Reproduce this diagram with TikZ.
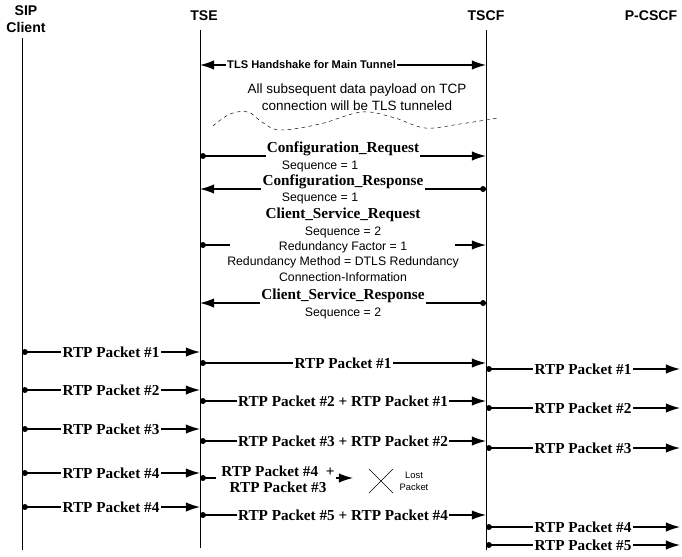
\documentclass[tikz,border=0pt]{standalone}
\usepackage{fontspec}
\setmainfont{Liberation Serif}
\setsansfont{Liberation Sans}
\usetikzlibrary{arrows.meta}
\tikzset{
  head/.style={font=\sffamily\bfseries\fontsize{12}{14}\selectfont, align=center},
  tip/.tip={Latex[length=12pt,width=8pt]},
  dot/.tip={Circle[length=5pt]},
  msg/.style={line width=1.1pt, {dot}-{tip}},
  back/.style={line width=1.1pt, {tip}-{dot}},
  lbl/.style={fill=white, inner sep=1pt, font=\bfseries\fontsize{13}{14}\selectfont},
  note/.style={font=\sffamily\fontsize{10.5}{13}\selectfont, align=center}
}
\begin{document}
\begin{tikzpicture}[x=0.03cm, y=-0.03cm]
  \useasboundingbox (0,0) rectangle (682,556);
  % lifelines
  \node[head] (sip) at (26,19) {SIP\\Client};
  \node[head] (tse) at (204,16) {TSE};
  \node[head] (tscf) at (486,16) {TSCF};
  \node[head] (pcscf) at (651,16) {P-CSCF};
  \coordinate (sipL) at (22,0);
  \coordinate (tseL) at (200,0);
  \coordinate (tscfL) at (486,0);
  \coordinate (pcscfL) at (680,0);
  \draw (sipL |- 0,38) -- (sipL |- 0,550);
  \draw (tseL |- 0,30) -- (tseL |- 0,548);
  \draw (tscfL |- 0,30) -- (tscfL |- 0,550);

  % tunnel
  \draw[line width=1.1pt, {tip}-{tip}] (tseL |- 0,65) -- (tscfL |- 0,65)
    node[pos=0.39, fill=white, inner sep=1pt, font=\sffamily\bfseries\fontsize{9.5}{11}\selectfont] {TLS Handshake for Main Tunnel};
  \node[note, font=\sffamily\fontsize{11.5}{15}\selectfont] (tnote) at (357,97) {All subsequent data payload on TCP\\connection will be TLS tunneled};
  \draw[dashed] plot[smooth, tension=0.6] coordinates {(213,126) (230,114) (248,112) (262,122) (280,130) (320,124) (362,112) (395,118) (425,128) (460,124) (498,118)};

  % configuration
  \draw[msg] (tseL |- 0,156) -- (tscfL |- 0,156) node[midway, lbl, yshift=6pt] {Configuration\_Request};
  \node[note] (seq1) at (320,166) {Sequence = 1};
  \draw[back] (tseL |- 0,189) -- (tscfL |- 0,189) node[midway, lbl, yshift=6pt] {Configuration\_Response};
  \node[note] (seq2) at (320,198) {Sequence = 1};
  \node[lbl] (csreq) at (343,215) {Client\_Service\_Request};
  \draw[line width=1.1pt, {dot}-] (tseL |- 0,245) -- (230,245);
  \coordinate (gapend) at (455,245);
  \draw[line width=1.1pt, -{tip}] (gapend) -- (tscfL |- 0,245);
  \node[note] (csinfo) at (343,254) {Sequence = 2\\Redundancy Factor = 1\\Redundancy Method = DTLS Redundancy\\Connection-Information};
  \draw[back] (tseL |- 0,303) -- (tscfL |- 0,303) node[midway, lbl, yshift=6pt] {Client\_Service\_Response};
  \node[note] (seq3) at (343,313) {Sequence = 2};

  % RTP packets
  \foreach \y/\t in {352/1, 390/2, 429/3, 473/4, 507/4}
    \draw[msg] (sipL |- 0,\y) -- (tseL |- 0,\y) node[midway, lbl] {RTP Packet \#\t};
  \draw[msg] (tseL |- 0,363) -- (tscfL |- 0,363) node[midway, lbl] {RTP Packet \#1};
  \draw[msg] (tseL |- 0,401) -- (tscfL |- 0,401) node[midway, lbl] {RTP Packet \#2 + RTP Packet \#1};
  \draw[msg] (tseL |- 0,441) -- (tscfL |- 0,441) node[midway, lbl] {RTP Packet \#3 + RTP Packet \#2};
  \draw[msg] (tseL |- 0,515) -- (tscfL |- 0,515) node[midway, lbl] {RTP Packet \#5 + RTP Packet \#4};
  % lost packet
  \draw[line width=1.1pt, {dot}-] (tseL |- 0,478) -- (216,478);
  \node[lbl, align=center, fill=none] (lost4) at (278,479) {RTP Packet \#4 \ +\\RTP Packet \#3};
  \coordinate (tipA) at (336,478);
  \draw[line width=1.1pt, -{tip}] (tipA) -- ++(17,0);
  \coordinate (xmark) at (381,481);
  \draw (xmark) ++(-12,-12) -- ++(24,24) (xmark) ++(12,-12) -- ++(-24,24);
  \node[font=\sffamily\fontsize{8}{10}\selectfont, align=center] (lostlbl) at (414,481) {Lost\\Packet};
  \foreach \y/\t in {369/1, 408/2, 448/3, 527/4, 545/5}
    \draw[msg] (tscfL |- 0,\y) -- (pcscfL |- 0,\y) node[midway, lbl] {RTP Packet \#\t};
\end{tikzpicture}
\end{document}
